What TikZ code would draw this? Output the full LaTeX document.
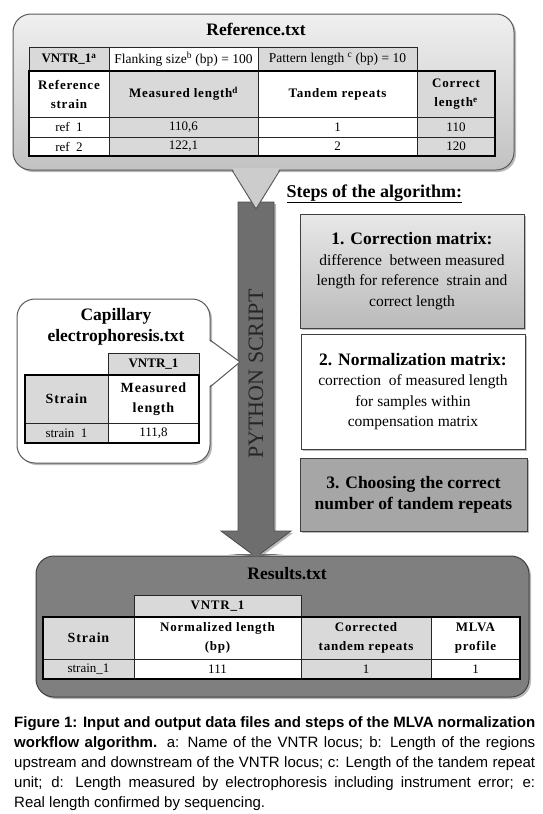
\documentclass[tikz,border=0pt]{standalone}
\usepackage{fontspec}
\setmainfont{Liberation Serif}
\newfontfamily\capfont{Liberation Sans}
\newfontfamily\widefont[LetterSpace=6]{Liberation Serif}
\usetikzlibrary{shadows}

\definecolor{cellgrey}{HTML}{D9D9D9}
\definecolor{boxedge}{HTML}{595959}
\definecolor{darkbox}{HTML}{7F7F7F}
\definecolor{arrowgrey}{HTML}{6E6E6E}
\definecolor{stepgrey}{HTML}{A6A6A6}

\tikzset{
  cell/.style={draw=black!85, line width=0.6pt, anchor=north west, inner sep=0pt, outer sep=0pt, align=center},
  greycell/.style={fill=cellgrey},
  plaintxt/.style={font=\fontsize{13.5}{15}\selectfont},
  datatxt/.style={font=\fontsize{13}{15}\selectfont},
  boldtxt/.style={font=\bfseries\fontsize{13}{15}\selectfont},
  hd/.style={font=\widefont\bfseries\fontsize{13}{19}\selectfont},
  bighd/.style={font=\widefont\bfseries\fontsize{14}{20}\selectfont},
  softshadow/.style={drop shadow={shadow xshift=2pt, shadow yshift=-2pt, opacity=0.45, fill=black!60}},
  filebox/.style={rounded corners=18pt, draw=boxedge, line width=1pt, softshadow},
  stepbox/.style={draw=black!75, line width=0.8pt, align=center, inner sep=0pt, softshadow, font=\fontsize{15.5}{20.5}\selectfont},
  title/.style={font=\bfseries\fontsize{17.5}{21}\selectfont}
}

\begin{document}
\begin{tikzpicture}[x=1pt, y=-1pt]
\useasboundingbox (0,0) rectangle (543,814);
\fill[white] (0,0) rectangle (543,814);

% python script arrow
\draw[fill=arrowgrey, draw=black!70, line width=0.8pt, softshadow]
  (238,202) -- (274,202) -- (274,531) -- (291,531) -- (256,557) -- (221,531) -- (238,531) -- cycle;
\node[rotate=90, text=black!85, font=\fontsize{22}{24}\selectfont] (py) at (256,374) {PYTHON SCRIPT};

% Reference.txt
\draw[filebox, top color=black!6, bottom color=black!24] (13,14) rectangle (514,170);
\fill[black!20] (232,168) -- (256,209) -- (280,168) -- cycle;
\draw[boxedge, line width=1pt] (232,170) -- (256,209) -- (280,170);
\node[title] (reftitle) at (256,29) {Reference.txt};

\node[cell, greycell, boldtxt, minimum width=80, minimum height=24] (rh0) at (29,47) {VNTR\_1\textsuperscript{a}};
\node[cell, fill=white, plaintxt, minimum width=149, minimum height=24] (rh1) at (109,47) {Flanking size\textsuperscript{b} (bp) = 100};
\node[cell, greycell, plaintxt, minimum width=159, minimum height=24] (rh2) at (258,47) {Pattern length \textsuperscript{c} (bp) = 10};
\node[cell, fill=white, hd, minimum width=80, minimum height=46] (rs) at (29,71) {Reference\\strain};
\node[cell, greycell, hd, minimum width=149, minimum height=46] (rm) at (109,71) {Measured length\textsuperscript{d}};
\node[cell, fill=white, hd, minimum width=159, minimum height=46] (rt) at (258,71) {Tandem repeats};
\node[cell, greycell, hd, minimum width=78, minimum height=46] (rc) at (417,71) {Correct\\length\textsuperscript{e}};
\node[cell, fill=white, datatxt, minimum width=80, minimum height=20] (r1a) at (29,117) {ref~~1};
\node[cell, greycell, datatxt, minimum width=149, minimum height=20] (r1b) at (109,117) {110,6};
\node[cell, fill=white, datatxt, minimum width=159, minimum height=20] (r1c) at (258,117) {1};
\node[cell, greycell, datatxt, minimum width=78, minimum height=20] (r1d) at (417,117) {110};
\node[cell, fill=white, datatxt, minimum width=80, minimum height=19] (r2a) at (29,137) {ref~~2};
\node[cell, greycell, datatxt, minimum width=149, minimum height=19] (r2b) at (109,137) {122,1};
\node[cell, fill=white, datatxt, minimum width=159, minimum height=19] (r2c) at (258,137) {2};
\node[cell, greycell, datatxt, minimum width=78, minimum height=19] (r2d) at (417,137) {120};
\draw[line width=1.4pt] (rs.north west) rectangle (r2d.south east);

% Capillary electrophoresis.txt
\draw[filebox, fill=white] (17,299) rectangle (210,463);
\fill[white] (208,340) -- (240,362) -- (208,387) -- cycle;
\draw[boxedge, line width=1pt] (210,340) -- (240,362) -- (210,387);
\node[title, align=center] (captitle) at (116,327) {Capillary\\electrophoresis.txt};

\node[cell, greycell, boldtxt, minimum width=91, minimum height=22] (cv) at (108,353) {VNTR\_1};
\node[cell, greycell, bighd, minimum width=83, minimum height=48] (cst) at (25,375) {Strain};
\node[cell, fill=white, bighd, minimum width=91, minimum height=48] (cml) at (108,375) {Measured\\length};
\node[cell, greycell, datatxt, minimum width=83, minimum height=20] (cs1) at (25,423) {strain~~1};
\node[cell, fill=white, datatxt, minimum width=91, minimum height=20] (cval) at (108,423) {111,8};
\draw[line width=1.4pt] (cst.north west) rectangle (cval.south east);

% steps of the algorithm
\node[anchor=base west, font=\bfseries\fontsize{18}{20}\selectfont] (steps) at (283,197) {\underline{Steps of the algorithm:}};
\node[stepbox, top color=black!9, bottom color=black!27, minimum width=224, minimum height=114] (corr) at (412,271)
  {{\bfseries\fontsize{17.5}{20}\selectfont 1. Correction matrix:}\\
   difference~ between measured\\length for reference~ strain and\\correct length};
\node[stepbox, fill=white, minimum width=224, minimum height=115] (norm) at (413,391.5)
  {{\bfseries\fontsize{17.5}{20}\selectfont 2. Normalization matrix:}\\
   correction~ of measured length\\for samples within\\compensation matrix};
\node[stepbox, fill=stepgrey, font=\bfseries\fontsize{17.5}{21}\selectfont, minimum width=227, minimum height=73] (choose) at (413.5,494.5)
  {3. Choosing the correct\\number of tandem repeats};

% Results.txt
\draw[filebox, fill=darkbox, draw=black!75] (36,556) rectangle (529,697);
\fill[arrowgrey] (228,554) -- (284,554) -- (256,556.5) -- cycle;
\node[title] (restitle) at (287,574) {Results.txt};

\node[cell, greycell, hd, minimum width=167, minimum height=22] (ov) at (134,595) {VNTR\_1};
\node[cell, greycell, bighd, minimum width=91, minimum height=42] (ost) at (43,617) {Strain};
\node[cell, fill=white, hd, minimum width=167, minimum height=42] (onl) at (134,617) {Normalized length\\(bp)};
\node[cell, greycell, hd, minimum width=130, minimum height=42] (oct) at (301,617) {Corrected\\tandem repeats};
\node[cell, fill=white, hd, minimum width=89, minimum height=42] (opr) at (431,617) {MLVA\\profile};
\node[cell, greycell, datatxt, minimum width=91, minimum height=20] (os1) at (43,659) {strain\_1};
\node[cell, fill=white, datatxt, minimum width=167, minimum height=20] (onv) at (134,659) {111};
\node[cell, greycell, datatxt, minimum width=130, minimum height=20] (ocv) at (301,659) {1};
\node[cell, fill=white, datatxt, minimum width=89, minimum height=20] (opv) at (431,659) {1};
\draw[line width=1.4pt] (ost.north west) rectangle (opv.south east);

% caption
\node[anchor=north west, inner sep=0pt, text width=521pt, align=justify, font=\capfont\fontsize{15}{20}\selectfont] (caption) at (14,716)
  {\textbf{Figure 1: Input and output data files and steps of the MLVA normalization}\linebreak
   \textbf{workflow algorithm.} a: Name of the VNTR locus; b: Length of the regions\linebreak
   upstream and downstream of the VNTR locus; c: Length of the tandem repeat\linebreak
   unit; d: Length measured by electrophoresis including instrument error; e:\linebreak
   Real length confirmed by sequencing.};
\end{tikzpicture}
\end{document}
